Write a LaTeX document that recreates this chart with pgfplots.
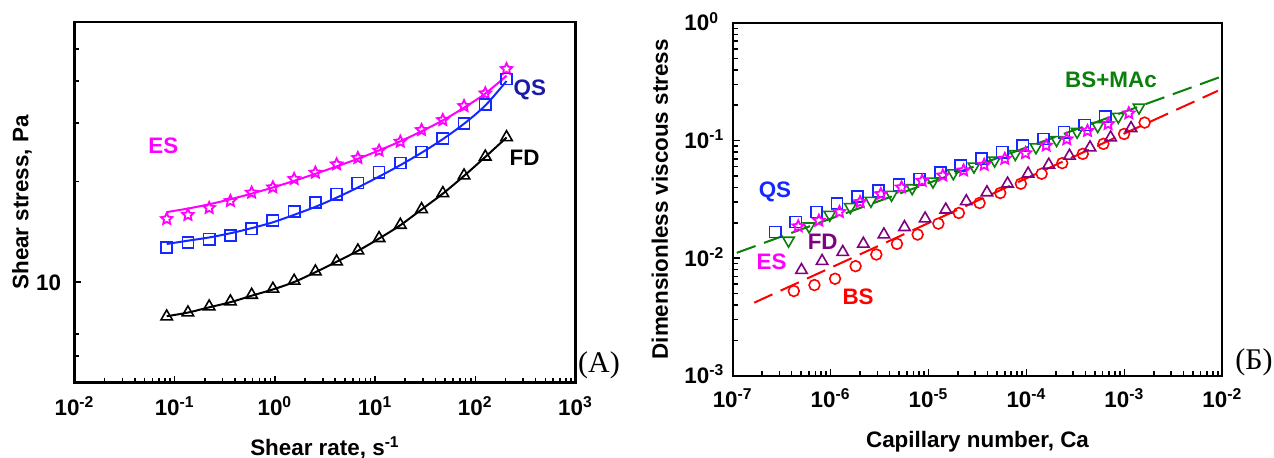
\documentclass[border=0pt]{standalone}
\usepackage{fontspec}
\setmainfont{Liberation Sans}
\newfontfamily\seriffont{Liberation Serif}
\usepackage{pgfplots}
\pgfplotsset{compat=1.18}
\usetikzlibrary{plotmarks}

\definecolor{esmag}{RGB}{255,0,255}
\definecolor{qsblue}{RGB}{20,40,255}
\definecolor{qsnavy}{RGB}{25,25,170}
\definecolor{fdpurple}{RGB}{128,0,128}
\definecolor{bsred}{RGB}{255,0,0}
\definecolor{mgreen}{RGB}{10,128,10}

\pgfdeclareplotmark{ostar}{%
  \pgfpathmoveto{\pgfpointpolar{90}{1.15\pgfplotmarksize}}%
  \pgfpathlineto{\pgfpointpolar{126}{0.55\pgfplotmarksize}}%
  \pgfpathlineto{\pgfpointpolar{162}{1.15\pgfplotmarksize}}%
  \pgfpathlineto{\pgfpointpolar{198}{0.55\pgfplotmarksize}}%
  \pgfpathlineto{\pgfpointpolar{234}{1.15\pgfplotmarksize}}%
  \pgfpathlineto{\pgfpointpolar{270}{0.55\pgfplotmarksize}}%
  \pgfpathlineto{\pgfpointpolar{306}{1.15\pgfplotmarksize}}%
  \pgfpathlineto{\pgfpointpolar{342}{0.55\pgfplotmarksize}}%
  \pgfpathlineto{\pgfpointpolar{18}{1.15\pgfplotmarksize}}%
  \pgfpathlineto{\pgfpointpolar{54}{0.55\pgfplotmarksize}}%
  \pgfpathclose\pgfusepathqstroke}

\newcommand{\lab}{\bfseries\fontsize{11.2}{13}\selectfont}

\begin{document}
\begin{tikzpicture}
\useasboundingbox (0,0) rectangle (637pt,228.5pt);

% ---------------- Left panel (A) ----------------
\begin{axis}[
  scale only axis, xmode=log, ymode=log,
  axis line style={line width=1.1pt},
  tick align=inside, xtick pos=bottom, ytick pos=left,
  major tick length=3.5pt, minor tick length=2.5pt,
  tick style={black, line width=0.8pt},
  tick label style={font=\lab, inner sep=0pt},
  label style={font=\lab},
  clip=false,
  at={(37.25pt,37.25pt)}, anchor=south west,
  width=250.5pt, height=180.1pt,
  xmin=0.01, xmax=1000, ymin=5, ymax=60,
  xtick={0.01,0.1,1,10,100,1000},
  xticklabels={10\textsuperscript{-2},10\textsuperscript{-1},10\textsuperscript{0},10\textsuperscript{1},10\textsuperscript{2},10\textsuperscript{3}},
  ytick={10}, yticklabels={10},
  minor ytick={6,7,20,30,40,50},
  xticklabel style={anchor=base, yshift=-16.5pt},
  yticklabel style={anchor=base east, xshift=-6.5pt, yshift=-4pt},
  xlabel={Shear rate, s\textsuperscript{-1}},
  ylabel={Shear stress, Pa},
  xlabel style={at={(axis description cs:0.5,-0.2013)}, anchor=base},
  ylabel style={at={(axis description cs:-0.1048,0.5)}, anchor=center},
]
% fitted curves
\addplot[esmag, line width=1pt, smooth] coordinates {
(0.0832,16.2)(0.1355,16.6)(0.2208,17.1)(0.3597,17.7)(0.586,18.4)(0.955,19.2)(1.556,20.1)(2.535,21.1)(4.13,22.2)(6.73,23.4)(10.96,24.8)(17.86,26.4)(29.1,28.3)(47.4,30.5)(77.2,33.3)(125.8,36.7)(205,41.5)};
\addplot[qsblue, line width=1pt, smooth] coordinates {
(0.0832,13.0)(0.1355,13.3)(0.2208,13.6)(0.3597,14.0)(0.586,14.5)(0.955,15.1)(1.556,15.9)(2.535,16.8)(4.13,17.9)(6.73,19.2)(10.96,20.7)(17.86,22.4)(29.1,24.4)(47.4,26.8)(77.2,29.8)(125.8,33.8)(205,40.0)};
\addplot[black, line width=1pt, smooth] coordinates {
(0.0832,7.9)(0.1355,8.1)(0.2208,8.4)(0.3597,8.7)(0.586,9.1)(0.955,9.5)(1.556,10.0)(2.535,10.7)(4.13,11.5)(6.73,12.4)(10.96,13.5)(17.86,14.8)(29.1,16.5)(47.4,18.4)(77.2,20.8)(125.8,23.7)(205,27.1)};
% data
\addplot[only marks, mark=ostar, mark size=2.6pt, mark options={esmag, line width=0.9pt}] coordinates {
(0.0832,15.45)(0.1355,15.89)(0.2208,16.67)(0.3597,17.49)(0.586,18.53)(0.955,19.22)(1.556,20.36)(2.535,21.27)(4.13,22.53)(6.73,23.53)(10.96,24.75)(17.86,26.34)(29.1,28.54)(47.4,30.58)(77.2,33.68)(125.8,36.76)(205,43.47)};
\addplot[only marks, mark=square, mark size=2.8pt, mark options={qsblue, line width=0.8pt}] coordinates {
(0.0832,12.68)(0.1355,13.13)(0.2208,13.43)(0.3597,13.78)(0.586,14.43)(0.955,15.28)(1.556,16.26)(2.535,17.29)(4.13,18.32)(6.73,19.81)(10.96,21.32)(17.86,22.74)(29.1,24.52)(47.4,26.95)(77.2,29.88)(125.8,34.07)(205,40.57)};
\addplot[only marks, mark=triangle, mark size=3.3pt, mark options={black, line width=0.8pt}] coordinates {
(0.0832,7.88)(0.1355,8.10)(0.2208,8.44)(0.3597,8.74)(0.586,9.15)(0.955,9.54)(1.556,10.08)(2.535,10.75)(4.13,11.51)(6.73,12.42)(10.96,13.53)(17.86,14.83)(29.1,16.52)(47.4,18.45)(77.2,20.84)(125.8,23.74)(205,27.14)};
\node[text=esmag, font=\lab] at (axis cs:0.077,25.6) {ES};
\node[text=qsnavy, font=\lab] at (axis cs:350,37.6) {QS};
\node[text=black, font=\lab] at (axis cs:310,23.6) {FD};
\end{axis}
\node[font=\seriffont\fontsize{15}{17}\selectfont] at (299.5pt,46pt) {(A)};

% ---------------- Right panel (B) ----------------
\begin{axis}[
  scale only axis, xmode=log, ymode=log,
  axis line style={line width=1.1pt},
  tick align=inside, xtick pos=bottom, ytick pos=left,
  major tick length=3.5pt, minor tick length=2.5pt,
  tick style={black, line width=0.8pt},
  tick label style={font=\lab, inner sep=0pt},
  label style={font=\lab},
  clip=false,
  at={(366.35pt,40.65pt)}, anchor=south west,
  width=244.8pt, height=176.35pt,
  xmin=1e-7, xmax=1e-2, ymin=1e-3, ymax=1,
  xtick={1e-7,1e-6,1e-5,1e-4,1e-3,1e-2},
  xticklabels={10\textsuperscript{-7},10\textsuperscript{-6},10\textsuperscript{-5},10\textsuperscript{-4},10\textsuperscript{-3},10\textsuperscript{-2}},
  ytick={1e-3,1e-2,1e-1,1},
  yticklabels={10\textsuperscript{-3},10\textsuperscript{-2},10\textsuperscript{-1},10\textsuperscript{0}},
  xticklabel style={anchor=base, yshift=-15.8pt},
  yticklabel style={anchor=base west, xshift=-24.3pt, yshift=-4pt},
  xlabel={Capillary number, Ca},
  ylabel={Dimensionless viscous stress},
  xlabel style={at={(axis description cs:0.5,-0.2022)}, anchor=base},
  ylabel style={at={(axis description cs:-0.1485,0.5)}, anchor=center},
]
\addplot[mgreen, line width=1pt, dash pattern=on 10pt off 4.5pt] coordinates {(1.1e-7,0.0111)(9.3e-3,0.345)};
\addplot[bsred, line width=1pt, dash pattern=on 10pt off 4.5pt] coordinates {(1.66e-7,0.00418)(9.0e-3,0.265)};
% BS circles
\addplot[only marks, mark=o, mark size=2.7pt, mark options={bsred, line width=0.8pt}] coordinates {
(4.21e-7,0.00525)(6.84e-7,0.00590)(1.11e-6,0.00668)(1.80e-6,0.00855)(2.93e-6,0.01074)(4.76e-6,0.01322)(7.74e-6,0.01587)(1.26e-5,0.01967)(2.04e-5,0.02421)(3.32e-5,0.02944)(5.40e-5,0.03581)(8.77e-5,0.04295)(1.43e-4,0.05224)(2.32e-4,0.06427)(3.76e-4,0.07709)(6.11e-4,0.09376)(9.93e-4,0.1138)(1.61e-3,0.1422)};
% FD triangles
\addplot[only marks, mark=triangle, mark size=3.3pt, mark options={fdpurple, line width=0.8pt}] coordinates {
(5.04e-7,0.00791)(8.18e-7,0.00944)(1.33e-6,0.01125)(2.16e-6,0.01322)(3.50e-6,0.01587)(5.68e-6,0.01832)(9.23e-6,0.02168)(1.50e-5,0.02582)(2.43e-5,0.03041)(3.95e-5,0.03622)(6.41e-5,0.04295)(1.04e-4,0.05224)(1.69e-4,0.06223)(2.75e-4,0.07413)(4.46e-4,0.08723)(7.24e-4,0.1060)(1.17e-3,0.1273)};
% QS squares
\addplot[only marks, mark=square, mark size=2.8pt, mark options={qsblue, line width=0.8pt}] coordinates {
(2.72e-7,0.0167)(4.42e-7,0.0203)(7.16e-7,0.0247)(1.16e-6,0.0291)(1.89e-6,0.0335)(3.07e-6,0.0374)(4.99e-6,0.0421)(8.11e-6,0.0470)(1.32e-5,0.0535)(2.14e-5,0.0614)(3.48e-5,0.0699)(5.65e-5,0.0796)(9.16e-5,0.0907)(1.49e-4,0.1033)(2.42e-4,0.1177)(3.94e-4,0.1358)(6.38e-4,0.1597)};
% BS+MAc inverted triangles
\addplot[only marks, mark=triangle, mark size=3.3pt, mark options={mgreen, line width=0.8pt, rotate=180}] coordinates {
(3.72e-7,0.01412)(6.03e-7,0.01866)(9.80e-7,0.02344)(1.59e-6,0.02723)(2.58e-6,0.03081)(4.19e-6,0.03466)(6.81e-6,0.03945)(1.11e-5,0.04498)(1.79e-5,0.05288)(2.91e-5,0.06026)(4.73e-5,0.06776)(7.69e-5,0.07709)(1.25e-4,0.08786)(2.03e-4,0.1014)(3.29e-4,0.1191)(5.34e-4,0.1332)(8.67e-4,0.1597)(1.41e-3,0.1916)};
% ES stars
\addplot[only marks, mark=ostar, mark size=2.6pt, mark options={esmag, line width=0.9pt}] coordinates {
(4.67e-7,0.01866)(7.59e-7,0.02085)(1.23e-6,0.02470)(2.00e-6,0.03000)(3.26e-6,0.03508)(5.30e-6,0.03997)(8.61e-6,0.04550)(1.40e-5,0.05047)(2.28e-5,0.05570)(3.70e-5,0.06223)(6.01e-5,0.06998)(9.77e-5,0.07816)(1.59e-4,0.09078)(2.58e-4,0.1026)(4.20e-4,0.1208)(6.82e-4,0.1384)(1.11e-3,0.1706)};
\node[text=qsblue, font=\lab] at (axis cs:2.7e-7,0.0365) {QS};
\node[text=fdpurple, font=\lab] at (axis cs:8.3e-7,0.01367) {FD};
\node[text=esmag, font=\lab] at (axis cs:2.5e-7,0.0093) {ES};
\node[text=bsred, font=\lab] at (axis cs:1.91e-6,0.00467) {BS};
\node[text=mgreen, font=\lab] at (axis cs:7.3e-4,0.3267) {BS+MAc};
\end{axis}
\node[font=\seriffont\fontsize{15}{17}\selectfont] at (627pt,47.5pt) {(Б)};
\end{tikzpicture}
\end{document}
